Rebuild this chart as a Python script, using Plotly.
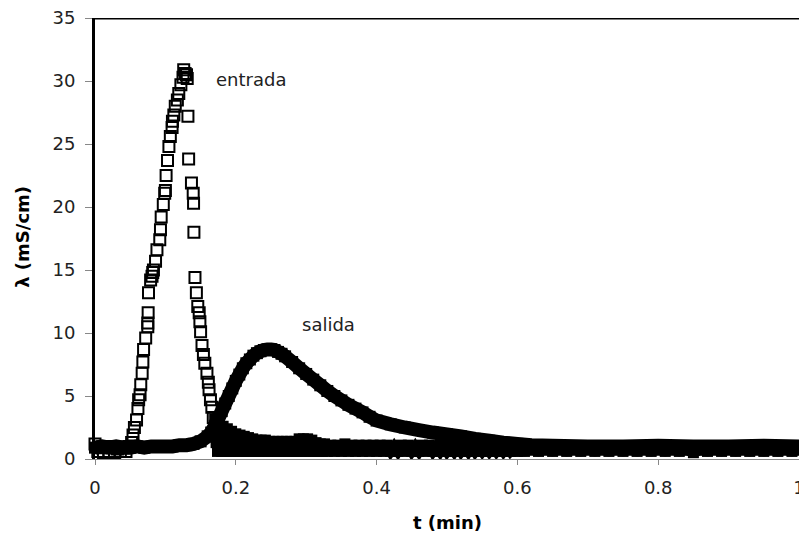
import plotly.graph_objects as go

# ---------------- data ----------------
# entrada: pre-peak baseline
entrada_base_t = [0.000, 0.004, 0.008, 0.012, 0.016, 0.020, 0.024, 0.028, 0.032, 0.036, 0.040, 0.044, 0.048]
entrada_base_v = [1.2, 0.6, 0.9, 0.5, 1.0, 0.6, 0.9, 0.5, 0.8, 0.6, 0.9, 0.6, 1.0]

# entrada: rising limb and peak
entrada_rise_t = [0.052, 0.054, 0.056, 0.059, 0.061, 0.062, 0.064, 0.065, 0.067, 0.068, 0.069, 0.072,
                  0.075, 0.075, 0.0755, 0.076, 0.079, 0.081, 0.082, 0.083, 0.086, 0.088, 0.092, 0.093,
                  0.094, 0.097, 0.099, 0.100, 0.101, 0.103, 0.105, 0.107, 0.1095, 0.110, 0.112, 0.114,
                  0.117, 0.119, 0.122, 0.125, 0.126, 0.128, 0.130, 0.131]
entrada_rise_v = [1.3, 1.9, 2.5, 3.1, 4.0, 4.7, 5.1, 5.9, 6.8, 7.7, 8.7, 9.6,
                  10.5, 10.8, 11.6, 13.2, 14.2, 14.5, 14.8, 15.0, 15.7, 16.6, 17.4, 18.2,
                  19.2, 20.2, 21.1, 21.3, 22.5, 23.7, 24.8, 25.6, 26.3, 26.8, 27.3, 28.0,
                  28.5, 29.0, 29.7, 30.3, 30.9, 30.6, 30.5, 30.2]

# entrada: falling limb
entrada_fall_t = [0.132, 0.133, 0.137, 0.1395, 0.140, 0.1405, 0.142, 0.144, 0.146, 0.148, 0.149,
                  0.150, 0.152, 0.154, 0.156, 0.159, 0.161, 0.162, 0.164, 0.166, 0.168]
entrada_fall_v = [27.2, 23.8, 21.9, 21.1, 20.3, 18.0, 14.4, 13.2, 12.1, 11.6, 10.9,
                  10.1, 9.0, 8.3, 7.6, 6.8, 6.1, 5.5, 4.7, 4.1, 3.3]

# entrada: tail back to baseline (dense, noisy readings)
entrada_tail_t = [0.170, 0.172, 0.174, 0.176, 0.178, 0.180, 0.182, 0.184, 0.186, 0.188, 0.190,
                  0.192, 0.194, 0.196, 0.198, 0.200, 0.202, 0.204, 0.206, 0.208, 0.210, 0.212,
                  0.214, 0.216, 0.218, 0.220, 0.222, 0.224, 0.226, 0.228, 0.230,
                  0.233, 0.236, 0.239, 0.242, 0.245, 0.248, 0.251, 0.254, 0.257, 0.260, 0.263,
                  0.266, 0.269, 0.272, 0.275, 0.278, 0.281, 0.284, 0.287, 0.290, 0.293, 0.296,
                  0.299, 0.302, 0.305, 0.308, 0.311, 0.314, 0.317, 0.320, 0.323, 0.326]
entrada_tail_v = [3.2, 1.3, 0.6, 2.9, 1.3, 0.6, 2.6, 1.2, 0.6, 2.4, 1.2,
                  0.6, 2.2, 1.2, 0.6, 2.0, 1.2, 0.6, 1.9, 1.2, 0.6, 1.8,
                  1.1, 0.6, 1.7, 1.1, 0.6, 1.6, 1.1, 0.6, 1.5,
                  0.6, 1.5, 0.6, 1.5, 0.6, 1.4, 0.6, 1.4, 0.6, 1.4, 0.6,
                  1.4, 0.6, 1.4, 0.6, 1.4, 0.6, 1.4, 0.6, 1.6, 0.6, 1.6,
                  0.6, 1.6, 0.6, 1.5, 0.6, 1.3, 0.6, 1.2, 0.6, 1.2]

# entrada: late baseline
entrada_late_t = [0.330, 0.335, 0.340, 0.345, 0.350, 0.355, 0.360, 0.365, 0.370, 0.375, 0.380,
                  0.385, 0.390, 0.395, 0.400, 0.405, 0.410, 0.415, 0.420, 0.425, 0.430, 0.435,
                  0.440, 0.445, 0.450, 0.455, 0.460, 0.465, 0.470, 0.475, 0.480, 0.485, 0.490,
                  0.495, 0.500, 0.505, 0.510, 0.515, 0.520, 0.525, 0.530, 0.535, 0.540, 0.545,
                  0.550, 0.555, 0.560, 0.565, 0.570, 0.575, 0.580, 0.585, 0.590, 0.595, 0.600,
                  0.61, 0.62, 0.63, 0.64, 0.65, 0.66, 0.67, 0.68, 0.69, 0.70, 0.71, 0.72, 0.73,
                  0.74, 0.75, 0.76, 0.77, 0.78, 0.79, 0.80, 0.81, 0.82, 0.83, 0.84, 0.85, 0.86,
                  0.87, 0.88, 0.89, 0.90, 0.91, 0.92, 0.93, 0.94, 0.95, 0.96, 0.97, 0.98, 0.99, 1.00]
entrada_late_v = [0.6, 1.1, 0.6, 1.1, 0.6, 1.2, 0.6, 1.1, 0.6, 1.1, 0.6,
                  1.1, 0.6, 1.1, 0.6, 1.1, 0.6, 1.1, 0.6, 1.0, 0.6, 1.1,
                  0.6, 1.1, 0.6, 1.0, 0.6, 1.1, 0.6, 1.1, 0.6, 1.0, 0.6,
                  1.1, 0.6, 1.0, 0.6, 1.1, 0.6, 1.0, 0.6, 1.1, 0.6, 1.0,
                  0.6, 1.0, 0.6, 1.0, 0.6, 1.0, 0.6, 1.0, 0.6, 0.9, 0.6,
                  0.6, 0.7, 0.6, 0.7, 0.6, 0.7, 0.6, 0.7, 0.6, 0.7, 0.6, 0.7, 0.6,
                  0.7, 0.6, 0.7, 0.6, 0.7, 0.6, 0.7, 0.6, 0.7, 0.6, 0.7, 0.5, 0.7,
                  0.6, 0.7, 0.6, 0.7, 0.6, 0.7, 0.6, 0.7, 0.6, 0.7, 0.6, 0.7, 0.6, 0.7]

# salida
salida_t = [0.00, 0.01, 0.02, 0.03, 0.04, 0.05, 0.06, 0.07, 0.08, 0.09, 0.10, 0.11, 0.12, 0.13,
            0.14, 0.15, 0.16, 0.165, 0.17, 0.175, 0.18, 0.185, 0.19, 0.195, 0.20, 0.205, 0.21,
            0.215, 0.22, 0.225, 0.23, 0.235, 0.24, 0.245, 0.25, 0.255, 0.26, 0.265, 0.27, 0.28,
            0.29, 0.30, 0.31, 0.32, 0.33, 0.34, 0.35, 0.36, 0.37, 0.38, 0.39, 0.40, 0.42, 0.44,
            0.46, 0.48, 0.50, 0.52, 0.54, 0.56, 0.58, 0.60, 0.62, 0.65, 0.70, 0.75, 0.80, 0.85,
            0.90, 0.95, 1.00]
salida_v = [0.9, 1.0, 0.9, 1.0, 0.9, 0.9, 1.0, 0.9, 1.0, 1.0, 1.0, 1.0, 1.1, 1.1,
            1.2, 1.4, 1.8, 2.1, 2.6, 3.2, 3.8, 4.4, 5.0, 5.6, 6.2, 6.7, 7.2,
            7.6, 7.9, 8.2, 8.4, 8.55, 8.65, 8.7, 8.7, 8.65, 8.5, 8.35, 8.15, 7.7,
            7.2, 6.75, 6.3, 5.85, 5.4, 5.0, 4.65, 4.3, 4.0, 3.7, 3.35, 3.05, 2.75, 2.5,
            2.3, 2.1, 1.95, 1.8, 1.6, 1.45, 1.3, 1.2, 1.1, 1.05, 1.0, 1.0, 1.05, 1.0,
            1.0, 1.05, 1.0]

x_ticks = [0, 0.2, 0.4, 0.6, 0.8, 1]
x_tick_text = ["0", "0.2", "0.4", "0.6", "0.8", "1"]
y_ticks = [0, 5, 10, 15, 20, 25, 30, 35]
y_tick_text = ["0", "5", "10", "15", "20", "25", "30", "35"]

# ---------------- figure ----------------
entrada_peak_t = entrada_base_t + entrada_rise_t + entrada_fall_t
entrada_peak_v = entrada_base_v + entrada_rise_v + entrada_fall_v
entrada_low_t = entrada_tail_t + entrada_late_t
entrada_low_v = entrada_tail_v + entrada_late_v

FONT = "DejaVu Sans"
TXT = "#222222"
SQ = dict(symbol="square-open", size=11, color="black", line=dict(width=2, color="black"))

fig = go.Figure()
# salida: the dense squares merge into one thick black band
fig.add_trace(go.Scatter(
    x=salida_t, y=salida_v, mode="lines+markers", name="salida",
    line=dict(color="black", width=14, simplify=False),
    marker=dict(symbol="square", size=12, color="black"),
    cliponaxis=False, showlegend=False,
))
# entrada, dense low part: the squares merge into a solid band
fig.add_trace(go.Scatter(
    x=entrada_low_t, y=entrada_low_v, mode="lines+markers", name="entrada",
    line=dict(color="black", width=10, simplify=False),
    marker=dict(symbol="square", size=11, color="black", line=dict(width=0)),
    cliponaxis=False, showlegend=False,
))
fig.add_trace(go.Scatter(
    x=entrada_peak_t, y=entrada_peak_v, mode="markers", name="entrada",
    marker=SQ, cliponaxis=False, showlegend=False,
))

fig.add_annotation(x=0.2216, y=30.1, xref="x", yref="y", text="entrada", showarrow=False,
                   font=dict(family=FONT, size=18, color=TXT))
fig.add_annotation(x=0.332, y=10.7, xref="x", yref="y", text="salida", showarrow=False,
                   font=dict(family=FONT, size=18, color=TXT))
fig.add_annotation(x=0.5, y=-0.145, xref="paper", yref="paper", text="<b>t (min)</b>",
                   showarrow=False, font=dict(family=FONT, size=18, color="black"),
                   xanchor="center", yanchor="middle")
fig.add_annotation(x=-0.103, y=0.505, xref="paper", yref="paper", text="<b>λ (mS/cm)</b>",
                   showarrow=False, textangle=-90, font=dict(family=FONT, size=18, color="black"),
                   xanchor="center", yanchor="middle")

# top border of the plot area
fig.add_shape(type="line", xref="paper", yref="y", x0=0, x1=1, y0=35, y1=35,
              line=dict(color="black", width=3))

fig.update_layout(
    template="none",
    width=799, height=538,
    margin=dict(l=95, r=0, t=18, b=79, pad=0),
    paper_bgcolor="white", plot_bgcolor="white",
    font=dict(family=FONT, size=18, color=TXT),
    showlegend=False,
    xaxis=dict(range=[0, 1], tickvals=x_ticks, ticktext=x_tick_text, showgrid=False,
               zeroline=False, showline=True, linecolor="#888888", linewidth=1,
               ticks="outside", ticklen=5, tickcolor="#888888", tickwidth=1,
               ticklabelstandoff=7, ticklabeloverflow="allow", automargin=False,
               tickfont=dict(family=FONT, size=18, color=TXT)),
    yaxis=dict(range=[0, 35], tickvals=y_ticks, ticktext=y_tick_text, showgrid=False,
               zeroline=False, showline=True, linecolor="black", linewidth=3,
               ticks="outside", ticklen=7, tickcolor="#888888", tickwidth=1,
               ticklabelstandoff=6, automargin=False,
               tickfont=dict(family=FONT, size=18, color=TXT)),
)

fig.write_html("out.html", config={"displayModeBar": False},
               post_script="document.body.style.margin='0';document.body.style.overflow='hidden';")
